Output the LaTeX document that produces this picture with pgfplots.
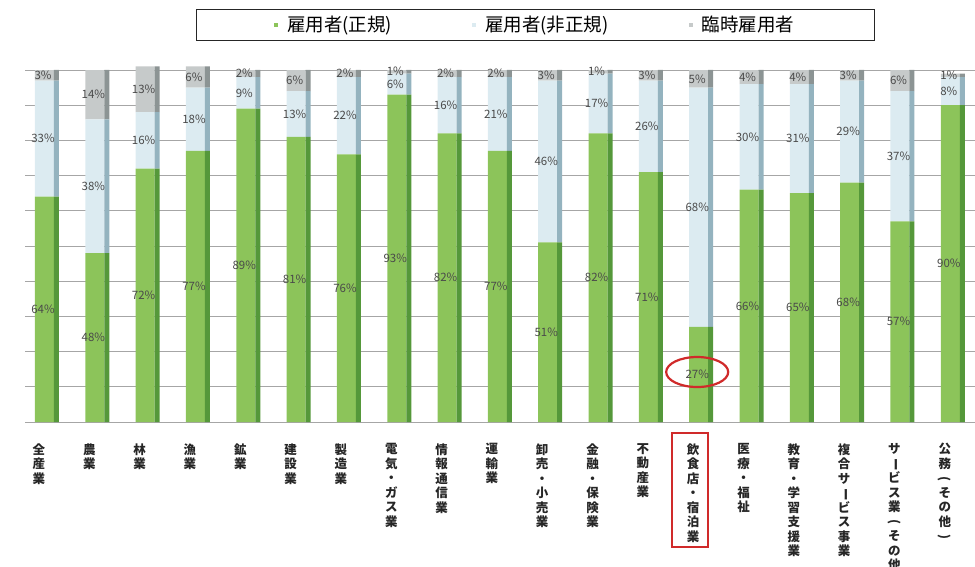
\documentclass[border=0pt]{standalone}
\usepackage{pgfplots}
\pgfplotsset{compat=1.18}
\usepackage{pgfplotstable}
\usepackage{graphicx}
\usepackage{fontspec}
\setmainfont{Noto Sans CJK JP}
\newcommand\vbar{\rotatebox[origin=c]{-90}{ー}}
\newcommand\vlp{\rotatebox[origin=c]{-90}{(}}
\newcommand\vrp{\rotatebox[origin=c]{-90}{)}}
\definecolor{gface}{HTML}{8CC45A}
\definecolor{gside}{HTML}{55983A}
\definecolor{bface}{HTML}{DCEBF1}
\definecolor{bside}{HTML}{94B3BF}
\definecolor{tface}{HTML}{C6CACA}
\definecolor{tside}{HTML}{8C9494}
\definecolor{labelc}{HTML}{4A4A4A}
\definecolor{annot}{HTML}{D02A2A}

\pgfplotstableread{
x a b c
0 64 33 3
1 48 38 14
2 72 16 13
3 77 18 6
4 89 9 2
5 81 13 6
6 76 22 2
7 93 6 1
8 82 16 2
9 77 21 2
10 51 46 3
11 82 17 1
12 71 26 3
13 27 68 5
14 66 30 4
15 65 31 4
16 68 29 3
17 57 37 6
18 90 8 1
}\datatable
\pgfplotstablecreatecol[expr={\thisrow{a}/2}]{ma}\datatable
\pgfplotstablecreatecol[expr={\thisrow{a}+\thisrow{b}/2}]{mb}\datatable
\pgfplotstablecreatecol[expr={\thisrow{a}+\thisrow{b}+\thisrow{c}/2}]{mc}\datatable

\pgfplotsset{base/.style={scale only axis, width=950pt, height=352pt,
  xmin=-0.278, xmax=18.6, ymin=0, ymax=100, clip=false,
  at={(25pt,144pt)}, anchor=south west,
  /pgf/number format/assume math mode=true}}

\begin{document}
\begin{tikzpicture}
\begin{axis}[base, ybar stacked, bar width=19pt, bar shift=5.5pt,
  ymajorgrids, ytick={0,10,...,100}, yticklabels={}, major tick length=0pt,
  grid style={black!35, line width=0.7pt},
  axis line style={draw=none},
  xtick={0,...,18},
  xticklabels={{全\\産\\業},{農\\業},{林\\業},{漁\\業},{鉱\\業},{建\\設\\業},{製\\造\\業},{電\\気\\・\\ガ\\ス\\業},{情\\報\\通\\信\\業},{運\\輸\\業},{卸\\売\\・\\小\\売\\業},{金\\融\\・\\保\\険\\業},{不\\動\\産\\業},{飲\\食\\店\\・\\宿\\泊\\業},{医\\療\\・\\福\\祉},{教\\育\\・\\学\\習\\支\\援\\業},{複\\合\\サ\\\vbar\\ビ\\ス\\事\\業},{サ\\\vbar\\ビ\\ス\\業\\\vlp\\そ\\の\\他\\\vrp},{公\\務\\\vlp\\そ\\の\\他\\\vrp}},
  xticklabel style={align=center, anchor=north, yshift=-18pt, text=black!85,
    font=\bfseries\fontsize{12.5}{14.5}\selectfont},
  legend columns=3,
  legend image code/.code={\fill[#1] (0pt,-2pt) rectangle (4pt,2pt);},
  legend style={at={(0.537,1.128)}, anchor=center, draw=black!85, line width=1.2pt,
    inner xsep=78pt, inner ysep=5pt, font=\fontsize{18.5}{20}\selectfont,
    /tikz/every odd column/.append style={column sep=7pt},
    /tikz/every even column/.append style={column sep=78pt}},
]
\addplot[fill=gface, draw=none] table[x=x, y=a]{\datatable};
\addplot[fill=bface, draw=none] table[x=x, y=b]{\datatable};
\addplot[fill=tface, draw=none] table[x=x, y=c]{\datatable};
\legend{雇用者(正規),雇用者(非正規),臨時雇用者}
\end{axis}
\begin{axis}[base, hide axis, ybar stacked, bar width=5pt, bar shift=17.5pt]
\addplot[fill=gside, draw=none] table[x=x, y=a]{\datatable};
\addplot[fill=bside, draw=none] table[x=x, y=b]{\datatable};
\addplot[fill=tside, draw=none] table[x=x, y=c]{\datatable};
\end{axis}
\begin{axis}[base, hide axis,
  every node near coord/.style={anchor=center, xshift=4pt, text=labelc,
    font=\fontsize{11.5}{13}\selectfont}]
\addplot[draw=none, mark=none, point meta=explicit,
  nodes near coords={\pgfmathprintnumber{\pgfplotspointmeta}\%}]
  table[x=x, y=ma, meta=a]{\datatable};
\addplot[draw=none, mark=none, point meta=explicit,
  nodes near coords={\pgfmathprintnumber{\pgfplotspointmeta}\%}]
  table[x=x, y=mb, meta=b]{\datatable};
\addplot[draw=none, mark=none, point meta=explicit,
  nodes near coords={\pgfmathprintnumber{\pgfplotspointmeta}\%}]
  table[x=x, y=mc, meta=c]{\datatable};
\draw[annot, line width=2.2pt] ([xshift=4pt]axis cs:13,14.2) ellipse [x radius=31pt, y radius=15pt];
\draw[annot, line width=2pt] ([xshift=-21pt,yshift=-11pt]axis cs:13,0) rectangle ([xshift=15pt,yshift=-125pt]axis cs:13,0);
\end{axis}
\pgfresetboundingbox
\useasboundingbox (0,0) rectangle (975pt,566pt);
\end{tikzpicture}
\end{document}
